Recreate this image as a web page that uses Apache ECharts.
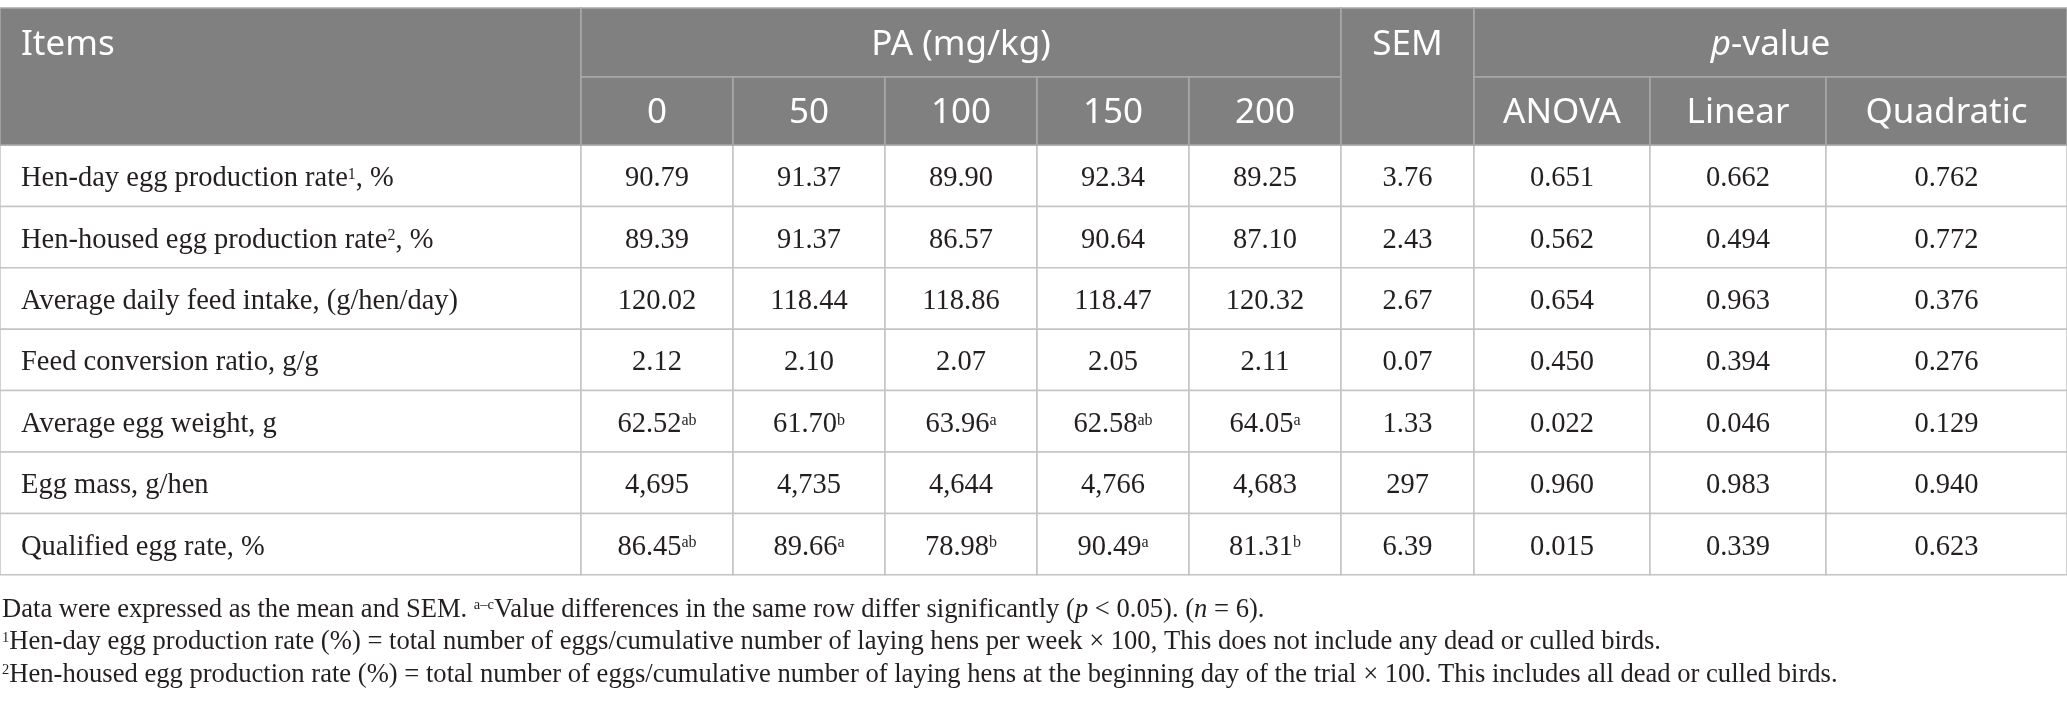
<!DOCTYPE html>
<html>
<head>
<meta charset="utf-8">
<script src="https://cdn.jsdelivr.net/npm/echarts@6/dist/echarts.min.js"></script>
<style>
  html, body { margin: 0; padding: 0; background: #fff; }
  #main { width: 2067px; height: 706px; }
</style>
</head>
<body>
<div id="main"></div>
<script>
// row labels, {sup|..} marks a footnote number
const items = [
  'Hen-day egg production rate{sup|1}, %',
  'Hen-housed egg production rate{sup|2}, %',
  'Average daily feed intake, (g/hen/day)',
  'Feed conversion ratio, g/g',
  'Average egg weight, g',
  'Egg mass, g/hen',
  'Qualified egg rate, %'
];
const doseLabels = ['0', '50', '100', '150', '200'];
const pLabels = ['ANOVA', 'Linear', 'Quadratic'];

// means per PA dose (mg/kg)
const pa0 = [90.79, 89.39, 120.02, 2.12, 62.52, 4695, 86.45];
const pa50 = [91.37, 91.37, 118.44, 2.10, 61.70, 4735, 89.66];
const pa100 = [89.90, 86.57, 118.86, 2.07, 63.96, 4644, 78.98];
const pa150 = [92.34, 90.64, 118.47, 2.05, 62.58, 4766, 90.49];
const pa200 = [89.25, 87.10, 120.32, 2.11, 64.05, 4683, 81.31];
// significance letters per dose column
const letters0 = ['', '', '', '', 'ab', '', 'ab'];
const letters50 = ['', '', '', '', 'b', '', 'a'];
const letters100 = ['', '', '', '', 'a', '', 'b'];
const letters150 = ['', '', '', '', 'ab', '', 'a'];
const letters200 = ['', '', '', '', 'a', '', 'b'];
const sem = [3.76, 2.43, 2.67, 0.07, 1.33, 297, 6.39];
const pAnova = [0.651, 0.562, 0.654, 0.450, 0.022, 0.960, 0.015];
const pLinear = [0.662, 0.494, 0.963, 0.394, 0.046, 0.983, 0.339];
const pQuadratic = [0.762, 0.772, 0.376, 0.276, 0.129, 0.940, 0.623];
const rowDecimals = [2, 2, 2, 2, 2, 0, 2];

const footnotes = [
  'Data were expressed as the mean and SEM. {sup|a\u2013c}Value differences in the same row differ significantly ({it|p} < 0.05). ({it|n} = 6).',
  '{sup|1}Hen-day egg production rate (%) = total number of eggs/cumulative number of laying hens per week \u00d7 100, This does not include any dead or culled birds.',
  '{sup|2}Hen-housed egg production rate (%) = total number of eggs/cumulative number of laying hens at the beginning day of the trial \u00d7 100. This includes all dead or culled birds.'
];

// layout
const colWidths = [581, 152, 152, 152, 152, 152, 133, 176, 176, 241];
const rowHeights = [69, 68, 61.4, 61.4, 61.4, 61.4, 61.4, 61.4, 61.4];
const colEdges = [0];
colWidths.forEach(w => colEdges.push(colEdges[colEdges.length - 1] + w));
const rowEdges = [0];
rowHeights.forEach(h => rowEdges.push(rowEdges[rowEdges.length - 1] + h));

const HEAD_BG = '#808080';
const HEAD_LINE = '#a9a9a9';
const BODY_LINE = '#c4c4c4';
const INK = '#231f20';
const SANS = '"Noto Sans", sans-serif';
const SERIF = '"Liberation Serif", serif';

const fmt = (v, d) => v.toLocaleString('en-US', { minimumFractionDigits: d, maximumFractionDigits: d });

const cells = [];
function addCell(c0, c1, r0, r1, text, opts) {
  opts = opts || {};
  const tr = opts.textRow != null ? opts.textRow : null;
  cells.push({
    x0: colEdges[c0], x1: colEdges[c1], y0: rowEdges[r0], y1: rowEdges[r1],
    ty: tr != null ? (rowEdges[tr] + rowEdges[tr + 1]) / 2 : (rowEdges[r0] + rowEdges[r1]) / 2,
    text: text, head: !!opts.head, left: !!opts.left
  });
}

// body
items.forEach((name, i) => {
  const r = i + 2;
  addCell(0, 1, r, r + 1, name, { left: true });
  const pa = [pa0, pa50, pa100, pa150, pa200];
  const lt = [letters0, letters50, letters100, letters150, letters200];
  pa.forEach((col, j) => {
    const s = lt[j][i] ? '{sup|' + lt[j][i] + '}' : '';
    addCell(1 + j, 2 + j, r, r + 1, fmt(col[i], rowDecimals[i]) + s);
  });
  addCell(6, 7, r, r + 1, fmt(sem[i], rowDecimals[i]));
  addCell(7, 8, r, r + 1, fmt(pAnova[i], 3));
  addCell(8, 9, r, r + 1, fmt(pLinear[i], 3));
  addCell(9, 10, r, r + 1, fmt(pQuadratic[i], 3));
});

// header
addCell(0, 1, 0, 2, 'Items', { head: true, left: true, textRow: 0 });
addCell(1, 6, 0, 1, 'PA (mg/kg)', { head: true });
doseLabels.forEach((d, j) => addCell(1 + j, 2 + j, 1, 2, d, { head: true }));
addCell(6, 7, 0, 2, 'SEM', { head: true, textRow: 0 });
addCell(7, 10, 0, 1, '{it|p}-value', { head: true });
pLabels.forEach((d, j) => addCell(7 + j, 8 + j, 1, 2, d, { head: true }));

function renderItem(params, api) {
  const cell = cells[params.dataIndex];
  const p0 = api.coord([api.value(0), api.value(2)]);
  const p1 = api.coord([api.value(1), api.value(3)]);
  const pt = api.coord([api.value(0), api.value(4)]);
  const head = cell.head;
  const textStyle = head ? {
    fontSize: 35, fontFamily: SANS, fill: '#fff', lineHeight: 40,
    rich: { it: { fontSize: 35, fontFamily: SANS, fontStyle: 'italic', fill: '#fff', lineHeight: 40 } }
  } : {
    fontSize: 28.5, fontFamily: SERIF, fill: INK, lineHeight: 30,
    rich: { sup: { fontSize: 16, fontFamily: SERIF, fill: INK, verticalAlign: 'top', padding: [3, 0, 0, 0] } }
  };
  return {
    type: 'group',
    children: [{
      type: 'rect',
      shape: { x: p0[0], y: p0[1], width: p1[0] - p0[0], height: p1[1] - p0[1] },
      style: { fill: head ? HEAD_BG : '#fff', stroke: head ? HEAD_LINE : BODY_LINE, lineWidth: 1.5 }
    }, {
      type: 'text',
      style: Object.assign({
        text: cell.text,
        x: cell.left ? p0[0] + 21 : (p0[0] + p1[0]) / 2,
        y: pt[1] + (head ? 2.5 : 3),
        align: cell.left ? 'left' : 'center',
        verticalAlign: 'middle'
      }, textStyle)
    }]
  };
}

const tableH = rowEdges[rowEdges.length - 1];
const chart = echarts.init(document.getElementById('main'));
chart.setOption({
  animation: false,
  backgroundColor: '#fff',
  grid: { left: 0, right: 0, top: 8, bottom: 706 - 8 - tableH },
  xAxis: { type: 'value', min: 0, max: colEdges[colEdges.length - 1], show: false },
  yAxis: { type: 'value', min: 0, max: tableH, inverse: true, show: false },
  series: [{
    type: 'custom',
    renderItem: renderItem,
    clip: false,
    silent: true,
    encode: { x: [0, 1], y: [2, 3, 4] },
    data: cells.map(c => [c.x0, c.x1, c.y0, c.y1, c.ty])
  }],
  graphic: footnotes.map((t, i) => ({
    type: 'text',
    x: 2,
    y: 610 + i * 32.5,
    silent: true,
    style: {
      text: t, fontSize: 26.6, fontFamily: SERIF, fill: INK, lineHeight: 30,
      verticalAlign: 'middle',
      rich: {
        sup: { fontSize: 14.5, fontFamily: SERIF, fill: INK, verticalAlign: 'top', padding: [3, 0, 0, 0] },
        it: { fontSize: 26.6, fontFamily: SERIF, fontStyle: 'italic', fill: INK }
      }
    }
  }))
});
</script>
</body>
</html>
